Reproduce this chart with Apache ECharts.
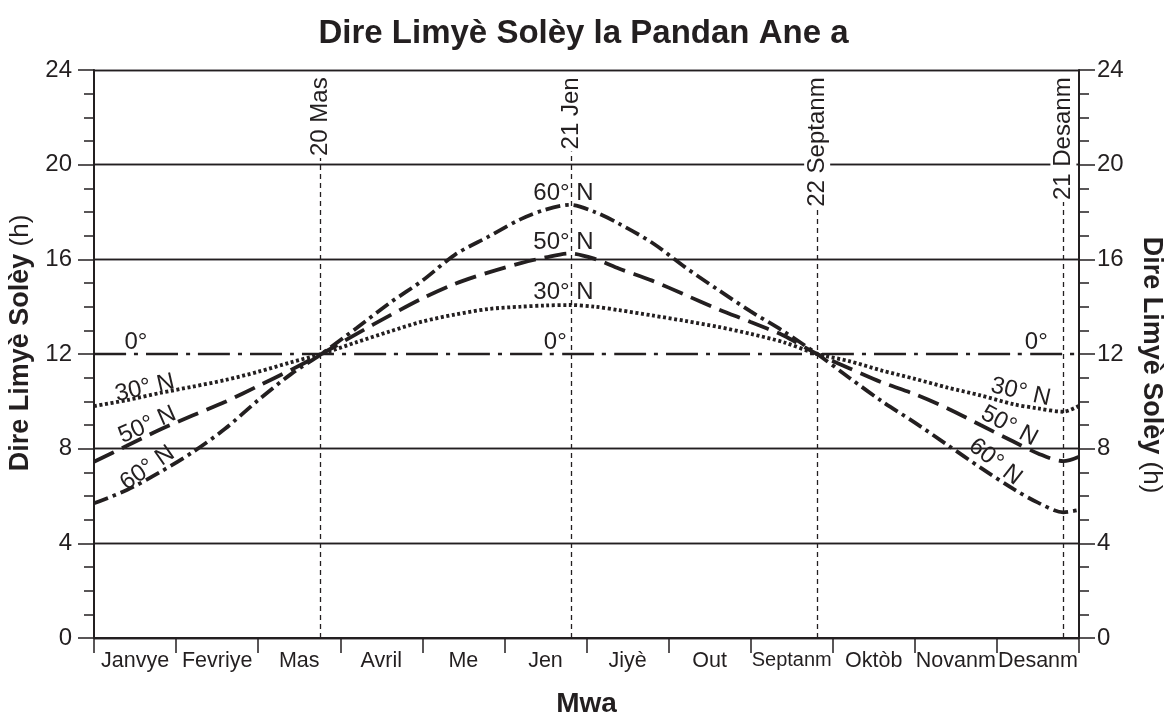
<!DOCTYPE html>
<html>
<head>
<meta charset="utf-8">
<title>Dire Limyè Solèy la Pandan Ane a</title>
<script src="https://cdn.jsdelivr.net/npm/echarts@6/dist/echarts.min.js"></script>
<style>
  html, body { margin: 0; padding: 0; background: #ffffff; }
  #chart { width: 1167px; height: 715px; }
</style>
</head>
<body>
<div id="chart"></div>
<script>
// Month names along the bottom axis
const months = ['Janvye', 'Fevriye', 'Mas', 'Avril', 'Me', 'Jen', 'Jiyè', 'Out', 'Septanm', 'Oktòb', 'Novanm', 'Desanm'];

// Position in the year, in months elapsed since 1 Janvye
const monthPos = [0, 0.4, 0.8, 1.2, 1.6, 2.0, 2.4, 2.77, 3.2, 3.6, 4.0, 4.4, 4.8, 5.2, 5.5, 5.8,
                  6.1, 6.4, 6.8, 7.2, 7.6, 8.0, 8.4, 8.81, 9.2, 9.6, 10.0, 10.4, 10.8, 11.2, 11.5, 11.81, 12.0];

// Hours of daylight at each latitude
const hours0  = [12, 12, 12, 12, 12, 12, 12, 12, 12, 12, 12, 12, 12, 12, 12, 12,
                 12, 12, 12, 12, 12, 12, 12, 12, 12, 12, 12, 12, 12, 12, 12, 12, 12];
const hours30 = [9.8, 10.05, 10.35, 10.62, 10.9, 11.25, 11.65, 12.0, 12.5, 12.95, 13.37, 13.67, 13.9, 14.0, 14.05, 14.07,
                 14.0, 13.85, 13.63, 13.4, 13.15, 12.85, 12.5, 12.0, 11.7, 11.3, 10.95, 10.58, 10.25, 9.88, 9.7, 9.56, 9.81];
const hours50 = [7.45, 8.12, 8.8, 9.4, 9.98, 10.65, 11.33, 12.0, 12.85, 13.62, 14.35, 14.97, 15.44, 15.84, 16.08, 16.25,
                 16.02, 15.6, 15.1, 14.5, 13.9, 13.35, 12.78, 12.0, 11.4, 10.8, 10.3, 9.7, 9.0, 8.3, 7.8, 7.47, 7.66];
const hours60 = [5.69, 6.25, 7.0, 7.85, 8.85, 10.05, 11.15, 12.0, 13.1, 14.15, 15.1, 16.2, 16.95, 17.7, 18.1, 18.3,
                 18.0, 17.5, 16.7, 15.67, 14.72, 13.8, 12.96, 12.0, 11.0, 10.0, 9.1, 8.15, 7.2, 6.3, 5.72, 5.31, 5.41];

// Equinoxes and solstices (months elapsed) with their names
const keyDates = [2.76, 5.81, 8.81, 11.81];
const keyDateNames = ['20 Mas', '21 Jen', '22 Septanm', '21 Desanm'];

// Curve captions: [month, hours, text, angle]
const curveTags = [
  [0.51, 12.5, '0°', 0],
  [5.62, 12.5, '0°', 0],
  [11.48, 12.5, '0°', 0],
  [0.62, 10.56, '30° N', 13],
  [0.65, 9.0, '50° N', 24],
  [0.65, 7.18, '60° N', 35],
  [5.72, 14.6, '30° N', 0],
  [5.72, 16.7, '50° N', 0],
  [5.72, 18.8, '60° N', 0],
  [11.29, 10.39, '30° N', -13],
  [11.15, 8.96, '50° N', -28],
  [10.98, 7.44, '60° N', -38]
];

const ink = '#231f20';
const fontFamily = 'Liberation Sans, Arial, Helvetica, sans-serif';

function pairs(values) {
  return monthPos.map((m, i) => [m, values[i]]);
}

function curve(name, values, dash, width) {
  return {
    name: name,
    type: 'line',
    xAxisIndex: 0,
    yAxisIndex: 0,
    data: pairs(values),
    smooth: 0.3,
    showSymbol: false,
    symbol: 'none',
    z: 4,
    lineStyle: { color: ink, width: width, type: dash, cap: 'butt' }
  };
}

// Grid lines every 4 h, except at 12 h where the 0° curve runs
const gridColors = [ink, ink, ink, 'rgba(0,0,0,0)', ink, ink, ink];

function hourAxis(side, gap, labelMargin, nameRotate) {
  return {
    type: 'value',
    position: side,
    min: 0,
    max: 24,
    interval: 4,
    name: '{b|Dire Limyè Solèy} (h)',
    nameLocation: 'middle',
    nameGap: gap,
    nameRotate: nameRotate,
    nameTextStyle: {
      color: ink, fontFamily: fontFamily, fontSize: 26,
      padding: [0, 0, 0, 22],
      rich: { b: { fontWeight: 'bold', fontSize: 27, color: ink, fontFamily: fontFamily } }
    },
    axisLine: { show: true, lineStyle: { color: ink, width: 2 } },
    axisTick: { show: true, inside: false, length: 16, lineStyle: { color: ink, width: 1.5 } },
    minorTick: { show: true, splitNumber: 4, length: 10, lineStyle: { color: ink, width: 1.5 } },
    splitLine: { show: true, lineStyle: { color: gridColors, width: 1.3 } },
    axisLabel: { color: ink, fontSize: 24, fontFamily: fontFamily, margin: labelMargin }
  };
}

const chart = echarts.init(document.getElementById('chart'), null, { renderer: 'canvas' });

chart.setOption({
  animation: false,
  backgroundColor: '#ffffff',
  textStyle: { fontFamily: fontFamily },
  title: {
    text: 'Dire Limyè Solèy la Pandan Ane a',
    left: 'center',
    top: 12,
    textStyle: { color: ink, fontSize: 33, fontWeight: 'bold', fontFamily: fontFamily }
  },
  grid: { left: 94, right: 88, top: 70, bottom: 77, containLabel: false, outerBoundsMode: 'none' },
  xAxis: [
    { type: 'value', min: 0, max: 12, show: false },
    {
      type: 'category',
      data: months,
      position: 'bottom',
      boundaryGap: true,
      name: 'Mwa',
      nameLocation: 'middle',
      nameGap: 52,
      nameTextStyle: { color: ink, fontSize: 28, fontWeight: 'bold', fontFamily: fontFamily },
      axisLine: { show: true, lineStyle: { color: ink, width: 2 } },
      axisTick: { show: true, inside: false, length: 15, alignWithLabel: false, lineStyle: { color: ink, width: 1.5 } },
      axisLabel: {
        interval: 0, color: ink, fontSize: 21.5, fontFamily: fontFamily, margin: 12,
        formatter: v => v === 'Septanm' ? '{n|' + v + '}' : v,
        rich: { n: { fontSize: 20, color: ink, fontFamily: fontFamily } }
      },
      splitLine: { show: false }
    }
  ],
  yAxis: [
    hourAxis('left', 57, 22, 90),
    hourAxis('right', 59, 18, -90)
  ],
  series: [
    Object.assign(curve('0°', hours0, [32, 8, 4, 8], 2.6), {
      markLine: {
        silent: true,
        symbol: ['none', 'none'],
        label: { show: false },
        lineStyle: { color: ink, width: 1.3, type: [5, 4] },
        data: keyDates.map(d => ({ xAxis: d }))
      }
    }),
    curve('30° N', hours30, [3, 2.6], 3.8),
    curve('50° N', hours50, [22, 9], 3.8),
    curve('60° N', hours60, [15, 5, 3.5, 5], 3.8),
    {
      // Names of the equinoxes and solstices, written up the dashed lines
      type: 'scatter',
      xAxisIndex: 0,
      yAxisIndex: 0,
      symbolSize: 1,
      itemStyle: { color: 'rgba(0,0,0,0)' },
      z: 10,
      silent: true,
      data: keyDates.map((d, i) => ({ value: [d, 23.9], name: keyDateNames[i] })),
      label: {
        show: true,
        position: 'inside',
        rotate: 90,
        align: 'right',
        verticalAlign: 'middle',
        formatter: p => p.name,
        color: ink,
        opacity: 1,
        textBorderWidth: 0,
        fontSize: 24,
        fontFamily: fontFamily,
        backgroundColor: '#ffffff',
        padding: [1, 5, 1, 2]
      }
    },
    {
      // Latitude captions beside each curve
      type: 'scatter',
      xAxisIndex: 0,
      yAxisIndex: 0,
      symbolSize: 1,
      itemStyle: { color: 'rgba(0,0,0,0)' },
      z: 9,
      silent: true,
      data: curveTags.map(t => ({
        value: [t[0], t[1]],
        name: t[2],
        label: { rotate: t[3] }
      })),
      label: {
        show: true,
        position: 'inside',
        align: 'center',
        verticalAlign: 'middle',
        formatter: p => p.name,
        color: ink,
        opacity: 1,
        textBorderWidth: 0,
        fontSize: 24,
        fontFamily: fontFamily
      }
    }
  ]
});
</script>
</body>
</html>
